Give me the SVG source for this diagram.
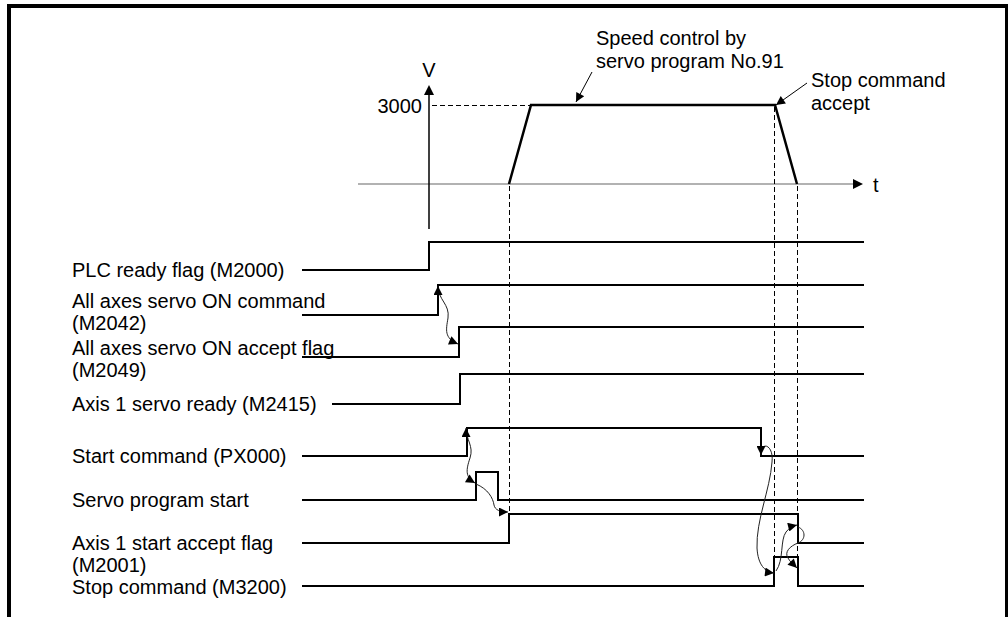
<svg xmlns="http://www.w3.org/2000/svg" width="1008" height="617" viewBox="0 0 1008 617">
<style>
text{font-family:"Liberation Sans",Arial,sans-serif;font-size:20px;fill:#000}
.sig{fill:none;stroke:#000;stroke-width:2;stroke-linejoin:miter}
.dash{fill:none;stroke:#000;stroke-width:1;stroke-dasharray:5,3}
.curve{fill:none;stroke:#222;stroke-width:1}
.border{fill:none;stroke:#000;stroke-width:4}
</style>
<defs>
<marker id="ah" viewBox="0 0 10 10" refX="10" refY="5" markerWidth="11" markerHeight="9" markerUnits="userSpaceOnUse" orient="auto-start-reverse">
<path d="M0,0 L10,5 L0,10 z" fill="#000"/>
</marker>
</defs>
<rect width="1008" height="617" fill="#fff"/>
<path class="border" d="M9,617 V6 H1007 V617"/>

<g id="velocity-graph">
<line x1="358" y1="184" x2="854" y2="184" stroke="#999" stroke-width="1.5"/>
<path d="M853,179 L863,184 L853,189 z" fill="#000"/>
<line x1="429" y1="229" x2="429" y2="93" stroke="#000" stroke-width="1.5"/>
<path d="M424,95 L429,85 L434,95 z" fill="#000"/>
<text x="429" y="77" text-anchor="middle">V</text>
<text x="422" y="113" text-anchor="end">3000</text>
<text x="873" y="192">t</text>
<line class="dash" x1="432" y1="105.5" x2="531" y2="105.5"/>
<polyline fill="none" stroke="#000" stroke-width="2.5" points="509,184 531,105 775,105 797,184"/>
</g>

<g id="annotations">
<text x="596" y="45">Speed control by</text>
<text x="596" y="68">servo program No.91</text>
<line x1="592" y1="72" x2="576" y2="102" stroke="#000" stroke-width="1" marker-end="url(#ah)"/>
<text x="811" y="87">Stop command</text>
<text x="811" y="110">accept</text>
<line x1="807" y1="83" x2="776" y2="105" stroke="#000" stroke-width="1" marker-end="url(#ah)"/>
</g>

<g id="guides">
<line class="dash" x1="509.5" y1="186" x2="509.5" y2="514"/>
<line class="dash" x1="774.5" y1="107" x2="774.5" y2="557"/>
<line class="dash" x1="797.5" y1="186" x2="797.5" y2="557"/>
</g>

<g id="sig-plc-ready">
<text x="72" y="277">PLC ready flag (M2000)</text>
<polyline class="sig" points="302,270 429,270 429,242 864,242"/>
</g>
<g id="sig-servo-on-cmd">
<text x="72" y="308">All axes servo ON command</text>
<text x="72" y="330">(M2042)</text>
<polyline class="sig" stroke-width="2.5" points="302,315 438,315 438,285 864,285"/>
</g>
<g id="sig-servo-on-accept">
<text x="72" y="355">All axes servo ON accept flag</text>
<text x="72" y="377">(M2049)</text>
<polyline class="sig" points="302,357 459,357 459,327 864,327"/>
</g>
<g id="sig-servo-ready">
<text x="72" y="411">Axis 1 servo ready (M2415)</text>
<polyline class="sig" points="332,404 460,404 460,374 864,374"/>
</g>
<g id="sig-start-cmd">
<text x="72" y="463">Start command (PX000)</text>
<polyline class="sig" points="302,456 467,456 467,428 761,428 761,456 864,456"/>
</g>
<g id="sig-servo-prog-start">
<text x="72" y="507">Servo program start</text>
<polyline class="sig" stroke-width="2.5" points="302,500 476,500 476,472 498,472 498,500 864,500"/>
</g>
<g id="sig-start-accept">
<text x="72" y="550">Axis 1 start accept flag</text>
<text x="72" y="572">(M2001)</text>
<polyline class="sig" points="302,543 509,543 509,514 798,514 798,543 864,543"/>
</g>
<g id="sig-stop-cmd">
<text x="72" y="594">Stop command (M3200)</text>
<polyline class="sig" points="302,586 774,586 774,557 798,557 798,586 864,586"/>
</g>

<g id="connectors">
<path class="curve" d="M438,286 C438,300 450,304 448,318 C446,330 444,338 458,344" marker-start="url(#ah)" marker-end="url(#ah)"/>
<path class="curve" d="M466,428 C466,440 474,446 470,458 C466,470 465,477 475,483" marker-start="url(#ah)" marker-end="url(#ah)"/>
<path class="curve" d="M476,484 C488,489 493,498 494,505 C495,510 500,512 508,512" marker-end="url(#ah)"/>
<path class="curve" d="M761,455 C761,440 774,445 772,462 C770,490 756,520 757,548 C758,565 765,572 774,573" marker-start="url(#ah)" marker-end="url(#ah)"/>
<path class="curve" d="M776,571 C784,560 780,540 786,532 C789,528 793,526 797,525" marker-end="url(#ah)"/>
<path class="curve" d="M798,527 C806,530 806,540 798,543 C790,546 784,552 788,558 C790,562 794,565 797,568" marker-end="url(#ah)"/>
</g>
</svg>
